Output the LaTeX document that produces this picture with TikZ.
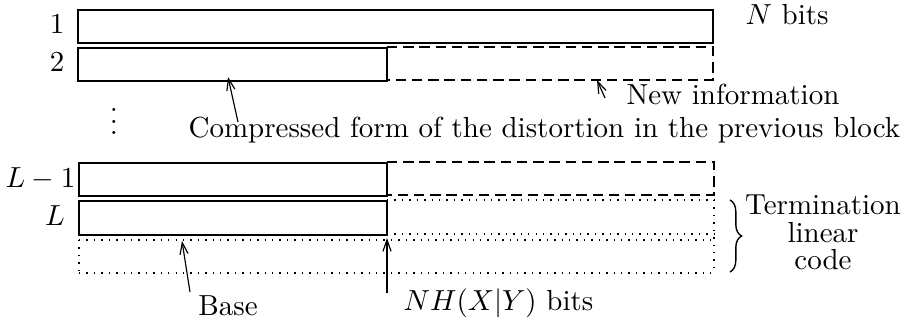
\documentclass[tikz,border=0pt]{standalone}
\usetikzlibrary{arrows.meta,decorations.pathreplacing}
\begin{document}
\begin{tikzpicture}[x=0.431pt,y=-0.431pt,
  box/.style={line width=0.6pt},
  dsh/.style={line width=0.6pt,dash pattern=on 4.5pt off 2.5pt},
  dot/.style={line width=0.6pt,dash pattern=on 0.6pt off 2.6pt},
  lab/.style={inner sep=0pt,scale=1.25},
  arr/.style={line width=0.5pt,-{Straight Barb[length=5pt,width=3.5pt]}}]
\useasboundingbox (0,0) rectangle (912,321);
% block 1
\draw[box] (78,10) rectangle (713,43);
% block 2
\draw[box] (78,48) rectangle (387,81);
\draw[dsh] (387,47) -- (713,47) -- (713,80) -- (387,80);
% block L-1
\draw[box] (79,163) rectangle (387,196);
\draw[dsh] (387,162) -- (714,162) -- (714,195) -- (387,195);
% block L
\draw[box] (79,201) rectangle (387,235);
\draw[dot] (387,200) -- (714,200);
\draw[dot] (387,234) -- (714,234);
\draw[dot] (79,240) -- (714,240);
\draw[dot] (79,273) -- (714,273);
\draw[dot] (79,240) -- (79,273);
\draw[dot] (714,200) -- (714,273);
% row labels
\node[lab,anchor=base] (r1) at (57,34) {1};
\node[lab,anchor=base] (r2) at (57,72) {2};
\node[lab,anchor=base east] (rL1) at (76,188) {$L-1$};
\node[lab,anchor=base] (rL) at (55,226) {$L$};
\node[lab] (vd) at (114,113) {$\vdots$};
% texts
\node[lab,anchor=base west] (nbits) at (745,25) {$N$ bits};
\node[lab,anchor=base west] (newinfo) at (626,105) {New information};
\node[lab,anchor=base west] (comp) at (188,138) {Compressed form of the distortion in the previous block};
\node[lab,anchor=base] (base) at (228,316) {Base};
\node[lab,anchor=base west] (nh) at (403,311) {$NH(X|Y)$ bits};
\node[lab,anchor=base] (term1) at (823,215) {Termination};
\node[lab,anchor=base] (term2) at (823,243) {linear};
\node[lab,anchor=base] (term3) at (823,270) {code};
% coordinates for arrows
\coordinate (c2) at (228,77);
\coordinate (cni) at (597,80);
\coordinate (cbase) at (182,241);
\coordinate (cbt) at (190,292);
\coordinate (cnh) at (387,238);
\coordinate (cnht) at (387,293);
\coordinate (cct) at (238,122);
\coordinate (cnit) at (605,98);
\draw[arr] (cct) -- (c2);
\draw[arr] (cnit) -- (cni);
\draw[arr] (cbt) -- (cbase);
\draw[arr] (cnht) -- (cnh);
% brace
\coordinate (bt) at (730,200);
\coordinate (bb) at (730,272);
\draw[line width=0.6pt,decorate,decoration={brace,amplitude=5pt}] (bt) -- (bb);
\end{tikzpicture}
\end{document}
